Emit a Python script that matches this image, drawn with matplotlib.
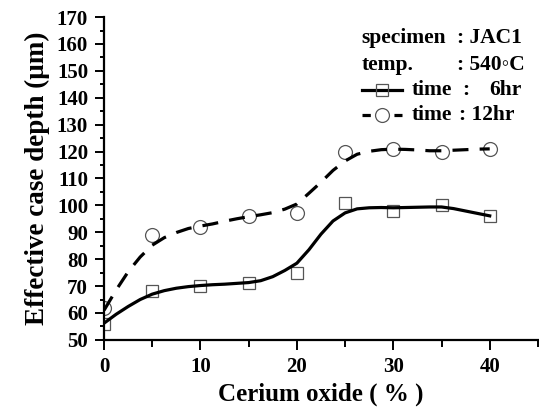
import matplotlib
matplotlib.use('Agg')
import matplotlib.pyplot as plt
from matplotlib.lines import Line2D
from matplotlib.ticker import MultipleLocator

plt.rcParams['font.family'] = ['Liberation Serif', 'DejaVu Serif']
plt.rcParams['font.weight'] = 'bold'

# measured points
cerium = [0, 5, 10, 15, 20, 25, 30, 35, 40]
depth_6hr = [56, 68, 70, 71, 75, 101, 98, 100, 96]
depth_12hr = [62, 89, 92, 96, 97, 120, 121, 120, 121]

# smoothed curves, every 1.25 %
curve_x = [0, 1.25, 2.5, 3.75, 5, 6.25, 7.5, 8.75, 10, 11.25, 12.5, 13.75, 15, 16.25,
           17.5, 18.75, 20, 21.25, 22.5, 23.75, 25, 26.25, 27.5, 28.75, 30, 31.25,
           32.5, 33.75, 35, 36.25, 37.5, 38.75, 40]
fit_6hr = [56.2, 59.5, 62.4, 65, 67, 68.3, 69.2, 69.8, 70.2, 70.5, 70.7, 71, 71.3, 72,
           73.5, 75.8, 78.5, 83.5, 89.3, 94.2, 97.2, 98.7, 99.1, 99.2, 99.1, 99.2,
           99.3, 99.4, 99.4, 98.8, 97.9, 97, 96.1]
fit_12hr = [61, 68.5, 75.3, 80.8, 85.2, 88, 89.9, 91.4, 92.3, 93.1, 94.1, 95, 95.8, 96.5,
            97.3, 98.6, 100.5, 104.5, 108.6, 113, 116.5, 119, 120.1, 120.7, 120.9, 120.8,
            120.6, 120.3, 120.3, 120.5, 120.7, 120.9, 121]

fig = plt.figure(figsize=(5.39, 4.16), dpi=100)
ax = fig.add_axes([0.193, 0.183, 0.805, 0.776])

dash = (0, (5, 3.5))
mk = dict(mfc='none', mec='#555555', mew=0.9)
ax.plot(cerium, depth_6hr, 's', ms=8.5, zorder=2, **mk)
ax.plot(cerium, depth_12hr, 'o', ms=10, zorder=2, **mk)
ax.plot(curve_x, fit_6hr, '-', color='black', lw=2.3, zorder=3)
ax.plot(curve_x, fit_12hr, color='black', lw=2.3, linestyle=dash, zorder=3)

ax.set_xlim(0, 45)
ax.set_ylim(50, 170)
ax.xaxis.set_major_locator(MultipleLocator(10))
ax.xaxis.set_minor_locator(MultipleLocator(5))
ax.yaxis.set_major_locator(MultipleLocator(10))
ax.yaxis.set_minor_locator(MultipleLocator(5))
ax.tick_params(which='major', width=1.4, labelsize=15, pad=5)
ax.tick_params(axis='y', which='major', length=6.5)
ax.tick_params(axis='y', which='minor', length=3, width=1.4)
ax.tick_params(axis='x', which='major', length=7.5)
ax.tick_params(axis='x', which='minor', length=5, width=1.4)
for lab in ax.get_xticklabels() + ax.get_yticklabels():
    lab.set_fontweight('bold')

for s in ['top', 'right']:
    ax.spines[s].set_visible(False)
for s in ['left', 'bottom']:
    ax.spines[s].set_linewidth(1.6)

ax.set_xlabel('Cerium oxide ( % )', fontsize=18, fontweight='bold', labelpad=4)
ax.set_ylabel('Effective case depth (\u03bcm)', fontsize=19.5, fontweight='bold', labelpad=5)

# key block in the upper right
fs = 15.5
tk = dict(transform=ax.transAxes, fontsize=fs, fontweight='bold', va='center')
rows = [0.935, 0.851, 0.774, 0.697]
ax.text(0.594, rows[0], 'specimen', **tk)
ax.text(0.813, rows[0], ': JAC1', **tk)
ax.text(0.594, rows[1], 'temp.', **tk)
ax.text(0.813, rows[1], ': 540\u25e6C', **tk)

hx0, hx1, hxm = 0.594, 0.687, 0.641
ax.add_line(Line2D([hx0, hx1], [rows[2], rows[2]], color='black', lw=2.3,
                   transform=ax.transAxes, clip_on=False))
ax.add_line(Line2D([hxm], [rows[2]], marker='s', ms=8.5, transform=ax.transAxes,
                   clip_on=False, **mk))
ax.add_line(Line2D([hx0, hx1], [rows[3], rows[3]], color='black', lw=2.3,
                   linestyle=(0, (2.6, 2.4)), transform=ax.transAxes, clip_on=False))
ax.add_line(Line2D([hxm], [rows[3]], marker='o', ms=10, mfc='white', mec='#555555',
                   mew=0.9, transform=ax.transAxes, clip_on=False, zorder=4))

ax.text(0.71, rows[2], 'time', **tk)
ax.text(0.825, rows[2], ':', **tk)
ax.text(0.963, rows[2], '6hr', ha='right', **{k: v for k, v in tk.items()})
ax.text(0.71, rows[3], 'time', **tk)
ax.text(0.818, rows[3], ': 12hr', **tk)

fig.savefig('out.png', dpi=100)
